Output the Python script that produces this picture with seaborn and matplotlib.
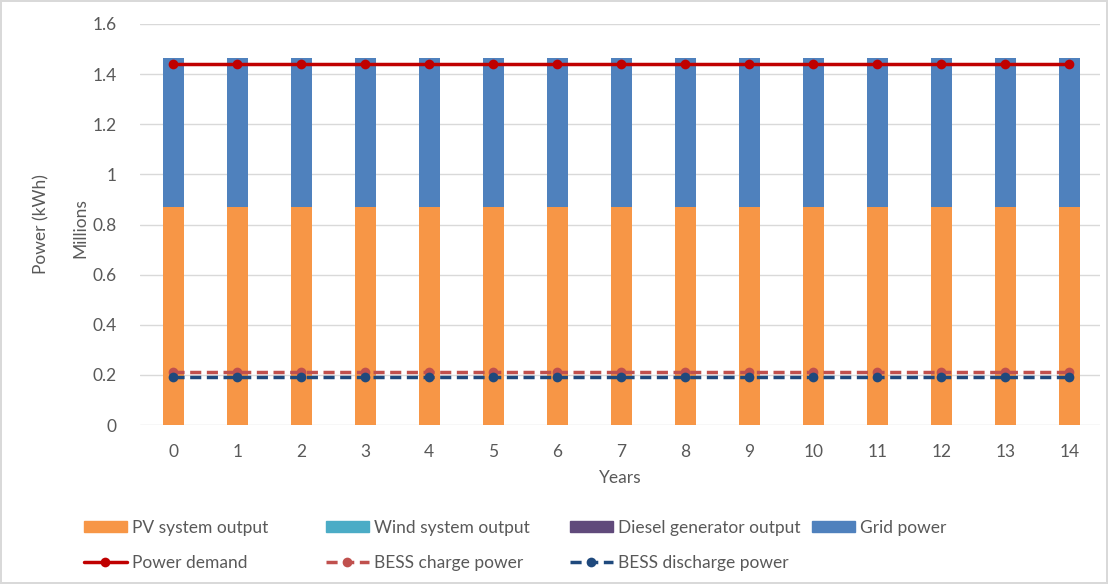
import matplotlib
matplotlib.use("Agg")
import matplotlib.pyplot as plt
import seaborn as sns
import numpy as np
import pandas as pd
from matplotlib.patches import Patch
from matplotlib.lines import Line2D

# Annual energy flows (millions of kWh)
years = list(range(15))
pv_output = [0.87] * 15
wind_output = [0.0] * 15
diesel_output = [0.0] * 15
grid_power = [0.595] * 15
power_demand = [1.44] * 15
bess_charge = [0.213] * 15
bess_discharge = [0.193] * 15

c_pv = "#F79646"
c_wind = "#4BACC6"
c_diesel = "#604A7B"
c_grid = "#4F81BD"
c_demand = "#C00000"
c_charge = "#C0504D"
c_discharge = "#1F497D"

sns.set_theme(style="white")
plt.rcParams["font.family"] = ["Lato", "DejaVu Sans"]
text_col = "#595959"
fs = 12.5

fig = plt.figure(figsize=(11.08, 5.84), dpi=100)
fig.patch.set_edgecolor("#D9D9D9")
fig.patch.set_linewidth(1.5)
ax = fig.add_axes([140 / 1108, 159 / 584, 960 / 1108, 401 / 584])

df = pd.DataFrame({
    "year": years,
    "pv": pv_output,
    "wind": wind_output,
    "diesel": diesel_output,
    "grid": grid_power,
})
bw = 0.33
base = np.zeros(len(years))
for col, color in [("pv", c_pv), ("wind", c_wind), ("diesel", c_diesel), ("grid", c_grid)]:
    sns.barplot(data=df, x="year", y=col, color=color, width=bw, bottom=base,
                ax=ax, saturation=1, linewidth=0, zorder=2)
    base = base + df[col].to_numpy()

dash = (0, (3.2, 1.6))
lines_df = pd.DataFrame({"year": years, "demand": power_demand,
                         "charge": bess_charge, "discharge": bess_discharge})
sns.lineplot(data=lines_df, x="year", y="demand", color=c_demand, lw=2.5,
             marker="o", markersize=7, markeredgewidth=0, ax=ax, zorder=4)
sns.lineplot(data=lines_df, x="year", y="charge", color=c_charge, lw=2.5,
             linestyle=dash, marker="o", markersize=7, markeredgewidth=0,
             ax=ax, zorder=4)
sns.lineplot(data=lines_df, x="year", y="discharge", color=c_discharge, lw=2.5,
             linestyle=dash, marker="o", markersize=7, markeredgewidth=0,
             ax=ax, zorder=4)

ax.set_xlim(-0.52, 14.48)
ax.set_ylim(0, 1.6)
ax.set_yticks(np.arange(0, 1.61, 0.2))
ax.set_yticklabels(["0", "0.2", "0.4", "0.6", "0.8", "1", "1.2", "1.4", "1.6"])
ax.set_xticks(years)
ax.set_xticklabels([str(y) for y in years])
ax.yaxis.grid(True, color="#D9D9D9", lw=1)
ax.set_axisbelow(True)
for s in ax.spines.values():
    s.set_visible(False)
ax.tick_params(axis="both", length=0, labelsize=fs, colors=text_col)
ax.tick_params(axis="y", pad=17)
ax.tick_params(axis="x", pad=14)
ax.set_xlabel("Years", fontsize=fs, color=text_col, labelpad=7)
ax.set_ylabel("")
fig.text(41 / 1108, 1 - 224 / 584, "Power (kWh)", rotation=90, ha="center",
         va="center", fontsize=fs, color=text_col)
fig.text(80 / 1108, 1 - 228 / 584, "Millions", rotation=90, ha="center",
         va="center", fontsize=fs, color=text_col)

# Legend: four fixed-width columns, patches on top row, lines below
columns = [
    [(Patch(color=c_pv), "PV system output"),
     (Line2D([], [], color=c_demand, lw=2.5, marker="o", ms=7, mew=0), "Power demand")],
    [(Patch(color=c_wind), "Wind system output"),
     (Line2D([], [], color=c_charge, lw=2.5, ls=dash, marker="o", ms=7, mew=0),
      "BESS charge power")],
    [(Patch(color=c_diesel), "Diesel generator output"),
     (Line2D([], [], color=c_discharge, lw=2.5, ls=dash, marker="o", ms=7, mew=0),
      "BESS discharge power")],
    [(Patch(color=c_grid), "Grid power")],
]
col_x = [84, 326, 570, 812]
for x, items in zip(col_x, columns):
    leg = fig.legend([h for h, _ in items], [l for _, l in items],
                     loc="upper left", bbox_to_anchor=(x / 1108, 1 - 520 / 584),
                     frameon=False, fontsize=fs, handlelength=2.45,
                     handleheight=0.6, handletextpad=0.3, labelspacing=1.1,
                     borderaxespad=0, borderpad=0)
    for t in leg.get_texts():
        t.set_color(text_col)

fig.savefig("out.png", dpi=100)
